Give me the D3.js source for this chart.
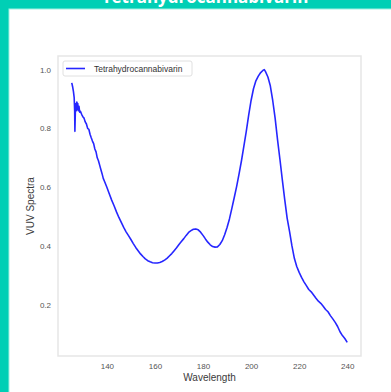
<!DOCTYPE html>
<html>
<head>
<meta charset="utf-8">
<script src="https://cdn.jsdelivr.net/npm/d3@7"></script>
<style>
  html, body { margin: 0; padding: 0; background: #ffffff; }
  svg { display: block; }
  text { font-family: "Liberation Sans", Arial, sans-serif; }
</style>
</head>
<body>
<svg id="chart" width="391" height="392"></svg>
<script>
// VUV absorption spectrum, normalised to the main peak
const title = "Tetrahydrocannabivarin";
const seriesName = "Tetrahydrocannabivarin";
const xLabel = "Wavelength";
const yLabel = "VUV Spectra";

const wavelength = [
  125.4, 125.8, 126.1, 126.4, 126.6, 126.7, 126.9, 127.1, 127.3, 127.5,
  127.7, 127.9, 128.1, 128.4, 128.7, 129, 129.5, 130, 130.5, 131,
  131.5, 132, 132.5, 133, 133.5, 134, 134.5, 135, 135.5, 136,
  136.5, 137, 137.5, 138, 138.5, 139, 139.5, 140, 141, 142,
  143, 144, 145, 146, 147, 148, 149, 150, 151, 152,
  153, 154, 155, 156, 157, 158, 159, 160, 161, 162,
  163, 164, 165, 166, 167, 168, 169, 170, 171, 172,
  173, 174, 175, 176, 177, 178, 179, 180, 181, 182,
  183, 184, 185, 186, 187, 188, 189, 190, 191, 192,
  193, 194, 195, 196, 197, 198, 199, 200, 201, 202,
  203, 204, 205, 205.5, 206, 207, 208, 209, 210, 211,
  212, 213, 214, 215, 216, 217, 218, 219, 220, 221,
  222, 223, 224, 225, 226, 227, 228, 229, 230, 231,
  232, 233, 234, 235, 236, 237, 238, 239, 240
];
const spectrum = [
  0.955, 0.94, 0.925, 0.905, 0.86, 0.79, 0.86, 0.885, 0.86, 0.89,
  0.865, 0.885, 0.86, 0.875, 0.855, 0.858, 0.848, 0.84, 0.835, 0.822,
  0.815, 0.80, 0.797, 0.78, 0.768, 0.757, 0.748, 0.73, 0.72, 0.70,
  0.69, 0.675, 0.66, 0.646, 0.63, 0.62, 0.61, 0.60, 0.578, 0.556,
  0.537, 0.516, 0.497, 0.48, 0.463, 0.448, 0.435, 0.422, 0.408, 0.395,
  0.384, 0.373, 0.364, 0.356, 0.350, 0.346, 0.343, 0.342, 0.342, 0.344,
  0.347, 0.352, 0.358, 0.366, 0.374, 0.384, 0.394, 0.405, 0.415, 0.425,
  0.436, 0.446, 0.452, 0.457, 0.458, 0.455, 0.447, 0.436, 0.424, 0.413,
  0.404, 0.398, 0.396, 0.397, 0.405, 0.418, 0.438, 0.463, 0.492, 0.528,
  0.565, 0.603, 0.645, 0.69, 0.74, 0.79, 0.845, 0.895, 0.935, 0.962,
  0.978, 0.99, 0.998, 1.0, 0.993, 0.975, 0.945, 0.895, 0.835, 0.762,
  0.695, 0.625, 0.558, 0.495, 0.45, 0.40, 0.358, 0.33, 0.31, 0.293,
  0.278, 0.265, 0.252, 0.244, 0.233, 0.222, 0.212, 0.205, 0.195, 0.184,
  0.176, 0.163, 0.152, 0.14, 0.126, 0.108, 0.095, 0.085, 0.072
];
const xTicks = [140, 160, 180, 200, 220, 240];
const yTicks = [0.2, 0.4, 0.6, 0.8, 1.0];

const data = wavelength.map((w, i) => ({ w, v: spectrum[i] }));

const svg = d3.select("#chart");
const W = 391, H = 392;

// page frame: teal band with white card
svg.append("rect").attr("width", W).attr("height", H).attr("fill", "#00cfb5");
svg.append("rect").attr("x", 9).attr("y", 9).attr("width", W).attr("height", H)
  .attr("fill", "#ffffff").attr("stroke", "#9ff0e2").attr("stroke-width", 1);

svg.append("text")
  .attr("x", 205).attr("y", 3)
  .attr("text-anchor", "middle")
  .attr("fill", "#ffffff")
  .style("font-family", "'Open Sans', sans-serif")
  .style("font-weight", "700")
  .style("font-size", "17px")
  .text(title);

const plot = { left: 58, right: 361, top: 56, bottom: 356 };

// axis extents padded by 5% of the data range on each side
function padded(ext) {
  const p = (ext[1] - ext[0]) * 0.05;
  return [ext[0] - p, ext[1] + p];
}
const x = d3.scaleLinear().domain(padded(d3.extent(wavelength))).range([plot.left, plot.right]);
const y = d3.scaleLinear().domain(padded(d3.extent(spectrum))).range([plot.bottom, plot.top]);

// plot frame
svg.append("rect")
  .attr("x", plot.left).attr("y", plot.top)
  .attr("width", plot.right - plot.left).attr("height", plot.bottom - plot.top)
  .attr("fill", "#ffffff").attr("stroke", "#e6e6e6").attr("stroke-width", 1.5);

const tickFont = "'Liberation Sans', Arial, sans-serif";

const xAxis = d3.axisBottom(x).tickValues(xTicks).tickSize(0).tickPadding(7)
  .tickFormat(d3.format("d"));
const gx = svg.append("g").attr("transform", `translate(0,${plot.bottom})`).call(xAxis);
gx.select(".domain").remove();
gx.selectAll("text").attr("fill", "#555").style("font-size", "8px")
  .style("font-family", tickFont);

const yAxis = d3.axisLeft(y).tickValues(yTicks).tickSize(0).tickPadding(7)
  .tickFormat(d3.format(".1f"));
const gy = svg.append("g").attr("transform", `translate(${plot.left},0)`).call(yAxis);
gy.select(".domain").remove();
gy.selectAll("text").attr("fill", "#555").style("font-size", "8px")
  .style("font-family", tickFont);

svg.append("text")
  .attr("x", (plot.left + plot.right) / 2).attr("y", 381)
  .attr("text-anchor", "middle").attr("fill", "#3a3a3a")
  .style("font-size", "10px").style("font-family", tickFont)
  .text(xLabel);

svg.append("text")
  .attr("transform", `translate(33.5,${(plot.top + plot.bottom) / 2}) rotate(-90)`)
  .attr("text-anchor", "middle").attr("fill", "#3a3a3a")
  .style("font-size", "10px").style("font-family", tickFont)
  .text(yLabel);

// spectrum line
const line = d3.line().x(d => x(d.w)).y(d => y(d.v));
svg.append("path")
  .datum(data)
  .attr("d", line)
  .attr("fill", "none")
  .attr("stroke", "#0000ff")
  .attr("stroke-opacity", 0.85)
  .attr("stroke-width", 1.6)
  .attr("stroke-linejoin", "round");

// legend
const lg = svg.append("g").attr("transform", "translate(63,61)");
lg.append("rect").attr("width", 129).attr("height", 15).attr("rx", 2)
  .attr("fill", "#ffffff").attr("stroke", "#e0e0e0").attr("stroke-width", 1);
lg.append("line").attr("x1", 3).attr("x2", 22).attr("y1", 7.5).attr("y2", 7.5)
  .attr("stroke", "#0000ff").attr("stroke-opacity", 0.85).attr("stroke-width", 1.6);
lg.append("text").attr("x", 31).attr("y", 10.5).attr("fill", "#333")
  .style("font-size", "8.5px").style("font-family", tickFont)
  .text(seriesName);
</script>
</body>
</html>
